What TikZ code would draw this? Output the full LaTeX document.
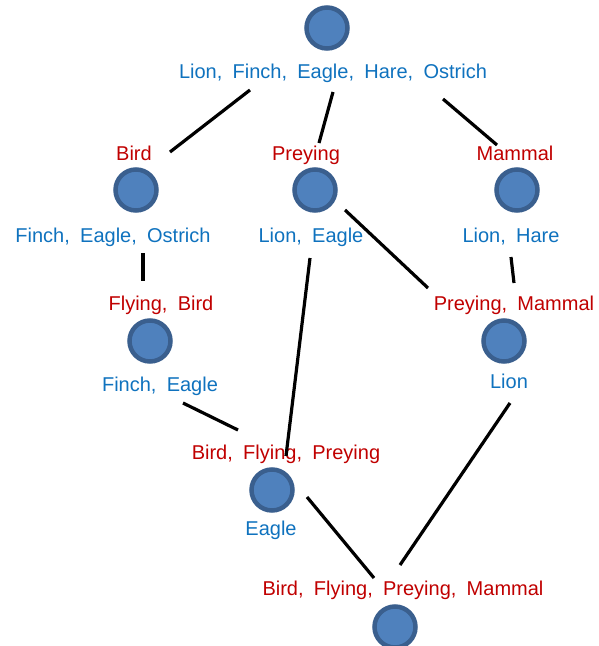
\documentclass[tikz,border=0pt]{standalone}
\usepackage{fontspec}
\setmainfont{Liberation Sans}[WordSpace=1.85]
\definecolor{cfill}{HTML}{4F81BD}
\definecolor{cbord}{HTML}{3A5F8E}
\definecolor{tblue}{HTML}{0F72BE}
\definecolor{tred}{HTML}{C00000}
\begin{document}
\begin{tikzpicture}[x=1pt,y=-1pt,
  concept/.style={circle,draw=cbord,fill=cfill,line width=4.5pt,minimum size=41pt,inner sep=0pt},
  objs/.style={text=tblue,font=\fontsize{20}{24}\selectfont,anchor=base,inner sep=0pt},
  attrs/.style={text=tred,font=\fontsize{20}{24}\selectfont,anchor=base,inner sep=0pt},
  link/.style={line width=3.2pt,black}]
\useasboundingbox (0,0) rectangle (598,646);
% concepts
\node[concept] (top) at (327,28) {};
\node[objs] (topO) at (333,78) {Lion, Finch, Eagle, Hare, Ostrich};

\node[attrs] (birdA) at (134,160) {Bird};
\node[concept] (bird) at (136,190) {};
\node[objs] (birdO) at (113,242) {Finch, Eagle, Ostrich};

\node[attrs] (prA) at (306,160) {Preying};
\node[concept] (pr) at (315,190) {};
\node[objs] (prO) at (311,242) {Lion, Eagle};

\node[attrs] (mamA) at (515,160) {Mammal};
\node[concept] (mam) at (517,190) {};
\node[objs] (mamO) at (511,242) {Lion, Hare};

\node[attrs] (fbA) at (161,310) {Flying, Bird};
\node[concept] (fb) at (150,341) {};
\node[objs] (fbO) at (160,391) {Finch, Eagle};

\node[attrs] (pmA) at (514,310) {Preying, Mammal};
\node[concept] (pm) at (504,341) {};
\node[objs] (pmO) at (509,388) {Lion};

\node[attrs] (bfpA) at (286,459) {Bird, Flying, Preying};
\node[concept] (bfp) at (272,490) {};
\node[objs] (bfpO) at (271,535) {Eagle};

\node[attrs] (botA) at (403,595) {Bird, Flying, Preying, Mammal};
\node[concept] (bot) at (395,627) {};

% connector end points
\coordinate (e1a) at (250,90);  \coordinate (e1b) at (170,152);
\coordinate (e2a) at (333,92);  \coordinate (e2b) at (319,143);
\coordinate (e3a) at (443,99);  \coordinate (e3b) at (497,145);
\coordinate (e4a) at (143,253); \coordinate (e4b) at (143,281);
\coordinate (e5a) at (345,210); \coordinate (e5b) at (428,288);
\coordinate (e6a) at (310,258); \coordinate (e6b) at (286,456);
\coordinate (e7a) at (511,257); \coordinate (e7b) at (514,283);
\coordinate (e8a) at (183,403); \coordinate (e8b) at (238,430);
\coordinate (e9a) at (307,497); \coordinate (e9b) at (374,578);
\coordinate (e10a) at (510,403); \coordinate (e10b) at (400,565);

\draw[link] (e1a) -- (e1b);
\draw[link] (e2a) -- (e2b);
\draw[link] (e3a) -- (e3b);
\draw[link] (e4a) -- (e4b);
\draw[link] (e5a) -- (e5b);
\draw[link] (e6a) -- (e6b);
\draw[link] (e7a) -- (e7b);
\draw[link] (e8a) -- (e8b);
\draw[link] (e9a) -- (e9b);
\draw[link] (e10a) -- (e10b);
\end{tikzpicture}
\end{document}
